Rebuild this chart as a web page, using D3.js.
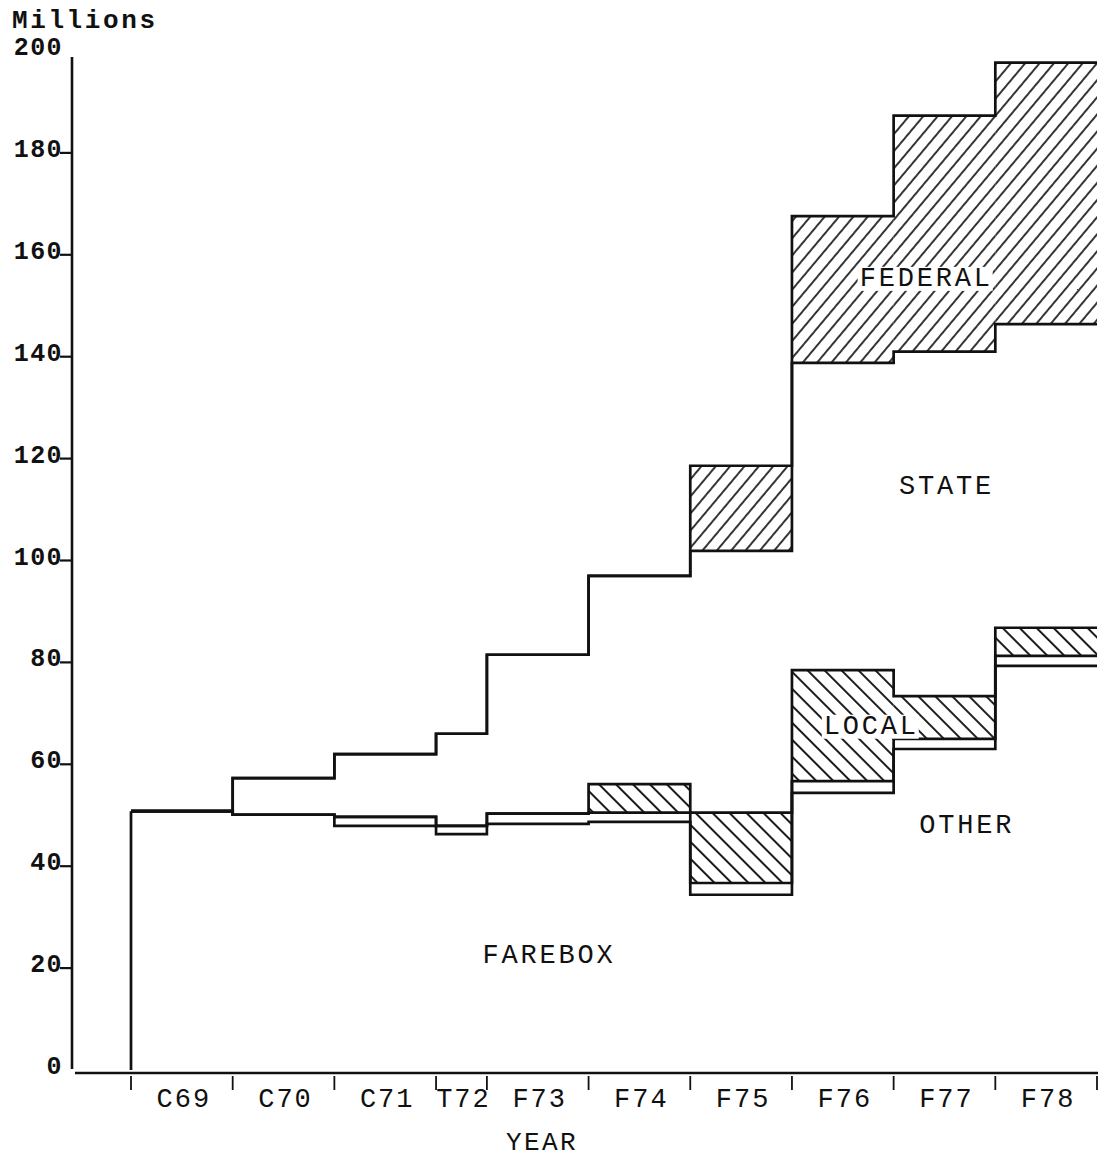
<!DOCTYPE html>
<html><head><meta charset="utf-8">
<script src="https://cdn.jsdelivr.net/npm/d3@7/dist/d3.min.js"></script>
<style>body{margin:0;background:#fff} svg{display:block}</style>
</head><body>
<svg id="chart" width="1098" height="1159"></svg>
<script>
// ---- data ----
const periods      = ["C69","C70","C71","T72","F73","F74","F75","F76","F77","F78"];
const periodStart  = [1969,1970,1971,1972,1972.5,1973.5,1974.5,1975.5,1976.5,1977.5];
const periodEnd    = [1970,1971,1972,1972.5,1973.5,1974.5,1975.5,1976.5,1977.5,1978.5];
const farebox      = [50.8,50.1,47.9,46.3,48.3,48.7,34.4,54.4,63.0,79.3];
const other        = [0,0,1.8,1.6,2.0,1.8,2.3,2.3,2.0,2.0];
const local        = [0,0,0,0,0,5.6,13.8,21.8,8.4,5.5];
const state        = [0,7.2,12.3,18.1,31.2,40.9,51.4,60.3,67.6,59.6];
const federal      = [0,0,0,0,0,0,16.7,28.8,46.3,51.3];
const yTicks       = [0,20,40,60,80,100,120,140,160,180,200];
const sourceKeys   = ["farebox","other","local","state","federal"];
const sourceNames  = ["FAREBOX","OTHER","LOCAL","STATE","FEDERAL"];
// label anchors in data units (year, millions)
const labelYear    = [1973.11,1977.22,1976.28,1977.02,1976.82];
const labelValue   = [21.0,46.5,66.0,113.1,153.9];

// ---- layout ----
const W = 1098, H = 1159;
const axisX = 72;
const x = d3.scaleLinear().domain([1969, 1978.5]).range([131, 1097]);
const y = d3.scaleLinear().domain([0, 200]).range([1070, 51]);
const ink = "#111";
const font = "'Liberation Mono', 'DejaVu Sans Mono', monospace";

const svg = d3.select("#chart");

// patterns
const defs = svg.append("defs");
const pf = defs.append("pattern").attr("id","fedHatch").attr("patternUnits","userSpaceOnUse")
  .attr("width",11).attr("height",11).attr("patternTransform","rotate(40)");
pf.append("line").attr("x1",1).attr("y1",0).attr("x2",1).attr("y2",11)
  .attr("stroke",ink).attr("stroke-width",1.7);
const pl = defs.append("pattern").attr("id","locHatch").attr("patternUnits","userSpaceOnUse")
  .attr("width",12).attr("height",12).attr("patternTransform","rotate(-45)");
pl.append("line").attr("x1",1).attr("y1",0).attr("x2",1).attr("y2",12)
  .attr("stroke",ink).attr("stroke-width",1.9);

// stack
const rows = periods.map((p,i)=>({period:p, start:periodStart[i], end:periodEnd[i],
  farebox:farebox[i], other:other[i], local:local[i], state:state[i], federal:federal[i]}));
const series = d3.stack().keys(sourceKeys)(rows);

// hatched fills
const hatchOf = {local:"url(#locHatch)", federal:"url(#fedHatch)"};
series.filter(s=>hatchOf[s.key]).forEach(s=>{
  svg.append("g").selectAll("rect").data(s.filter(d=>d[1]-d[0]>0)).join("rect")
    .attr("x", d=>x(d.data.start)).attr("width", d=>x(d.data.end)-x(d.data.start))
    .attr("y", d=>y(d[1])).attr("height", d=>y(d[0])-y(d[1]))
    .attr("fill", hatchOf[s.key]);
});

// axes
svg.append("line").attr("x1",axisX).attr("x2",axisX).attr("y1",y(200)+6).attr("y2",y(0)-1)
  .attr("stroke",ink).attr("stroke-width",2.6);
svg.append("line").attr("x1",axisX+3).attr("x2",W).attr("y1",y(0)+3).attr("y2",y(0)+3)
  .attr("stroke",ink).attr("stroke-width",2.6);

const yg = svg.append("g");
yg.selectAll("line").data(yTicks.filter(t=>t>0 && t<200)).join("line")
  .attr("x1",axisX-12).attr("x2",axisX).attr("y1",d=>y(d)).attr("y2",d=>y(d))
  .attr("stroke",ink).attr("stroke-width",2.2);
yg.selectAll("text").data(yTicks).join("text")
  .attr("x",axisX-9).attr("y",d=>y(d)+4).attr("text-anchor","end")
  .attr("font-family",font).attr("font-size",25).attr("font-weight","bold")
  .attr("letter-spacing",1.4).attr("fill",ink).text(d=>d);

svg.append("text").attr("x",12).attr("y",28).attr("font-family",font).attr("font-size",26)
  .attr("font-weight","bold").attr("letter-spacing",2.6).attr("fill",ink).text("Millions");

const bounds = periodStart.concat([periodEnd[periodEnd.length-1]]);
svg.append("g").selectAll("line").data(bounds).join("line")
  .attr("x1",d=>x(d)).attr("x2",d=>x(d)).attr("y1",y(0)+6).attr("y2",y(0)+20)
  .attr("stroke",ink).attr("stroke-width",1.8);
svg.append("g").selectAll("text").data(rows).join("text")
  .attr("x",d=>x((d.start+d.end)/2)+2).attr("y",1107).attr("text-anchor","middle")
  .attr("font-family",font).attr("font-size",27).attr("letter-spacing",2).attr("fill",ink)
  .text(d=>d.period);
svg.append("text").attr("x",542).attr("y",1150).attr("text-anchor","middle")
  .attr("font-family",font).attr("font-size",26).attr("letter-spacing",2.4).attr("fill",ink).text("YEAR");

// step lines for each cumulative level
const stepLine = d3.line().x(d=>x(d[0])).y(d=>y(d[1])).curve(d3.curveStepAfter);
series.forEach(s=>{
  const pts = s.map(d=>[d.data.start, d[1]]);
  pts.push([periodEnd[periodEnd.length-1], s[s.length-1][1]]);
  svg.append("path").attr("d",stepLine(pts)).attr("fill","none")
    .attr("stroke",ink).attr("stroke-width",2.7).attr("stroke-linejoin","miter");
});
// left edge of the first period
svg.append("path").attr("d",stepLine([[periodStart[0],0],[periodStart[0],series[series.length-1][0][1]]]))
  .attr("fill","none").attr("stroke",ink).attr("stroke-width",2.7);

// band labels
const lbl = svg.append("g");
sourceNames.forEach((n,i)=>{
  const tx = x(labelYear[i]), ty = y(labelValue[i]);
  const t = lbl.append("text").attr("x",tx).attr("y",ty).attr("text-anchor","middle")
    .attr("font-family",font).attr("font-size",27).attr("letter-spacing",2.8).attr("fill",ink).text(n);
  if (n==="FEDERAL" || n==="LOCAL") {
    const bb = t.node().getBBox();
    lbl.insert("rect","text").attr("x",bb.x-2).attr("y",bb.y+3).attr("width",bb.width+2).attr("height",bb.height-6)
      .attr("fill","#fff");
  }
});
</script>
</body></html>
